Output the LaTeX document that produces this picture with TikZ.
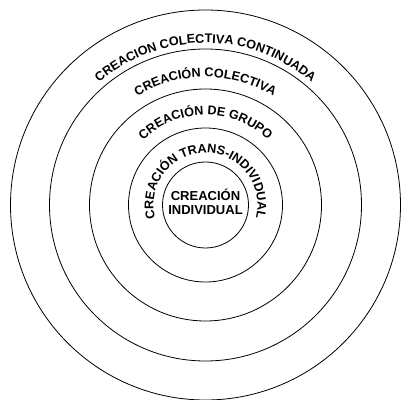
\documentclass[tikz,border=0pt]{standalone}
\usepackage{fontspec}
\setmainfont{Liberation Sans}
\usetikzlibrary{decorations.text}
\newcommand\arclblfont{\bfseries\fontsize{12.6}{13}\selectfont}
\begin{document}
\begin{tikzpicture}[x=1pt,y=1pt,
  ring/.style={draw=black, line width=0.8pt},
  arclabel/.style={decorate, decoration={text along path, text align=center, text={|\arclblfont|#1}}}]
\useasboundingbox (0,0) rectangle (401,399);
\coordinate (c) at (205.5,194);
\foreach \r in {43,77,116,156,195} \draw[ring] (c) circle[radius=\r];
\path[arclabel={CREACION COLECTIVA CONTINUADA}] ([shift={(140:162)}]c) arc[start angle=140,end angle=40,radius=162];
\path[arclabel={CREACIÓN COLECTIVA}] ([shift={(140:128)}]c) arc[start angle=140,end angle=40,radius=128];
\path[arclabel={CREACIÓN DE GRUPO}] ([shift={(150:90)}]c) arc[start angle=150,end angle=30,radius=90];
\path[arclabel={CREACIÓN TRANS-INDIVIDUAL}] ([shift={(200:52)}]c) arc[start angle=200,end angle=-20,radius=52];
\node[align=center, font=\bfseries\fontsize{13}{14}\selectfont, inner sep=0pt] (indiv) at ([yshift=3]c) {CREACIÓN\\INDIVIDUAL};
\end{tikzpicture}
\end{document}
